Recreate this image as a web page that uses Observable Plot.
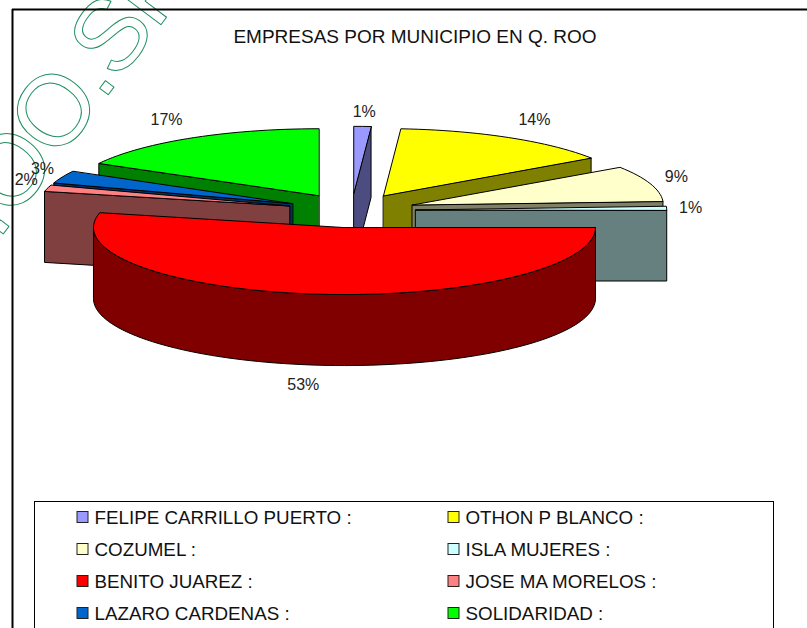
<!DOCTYPE html>
<html><head><meta charset="utf-8">
<script src="https://cdn.jsdelivr.net/npm/d3@7"></script>
<script src="https://cdn.jsdelivr.net/npm/@observablehq/plot@0.6"></script>
<style>html,body{margin:0;padding:0;background:#fff;overflow:hidden}
.wm text{letter-spacing:-3px}</style>
</head><body><div id="chart"></div>
<script>
const title = "EMPRESAS POR MUNICIPIO EN Q. ROO";
const municipios = ["FELIPE CARRILLO PUERTO :","OTHON P BLANCO :","COZUMEL :","ISLA MUJERES :","BENITO JUAREZ :","JOSE MA MORELOS :","LAZARO CARDENAS :","SOLIDARIDAD :"];
const shares = [1.1,14.4,8.6,0.9,53.49,1.51,3.0,17.0];
const topColors = ["#9999ff","#ffff00","#ffffcc","#ccffff","#ff0000","#ff8080","#0066cc","#00ff00"];
const sideColors = ["#4c4c80","#808000","#808066","#668080","#800000","#804040","#003366","#008000"];
const paintOrder = [7,0,1,6,2,5,3,4];
const labelNudge = [[0,5],[0,0],[-23,0],[-28,0],[-8,0],[29,-3],[28,0],[2,-1]];
const watermark = ".OO.SP";

const cx=351, cy=210, rx=251, ry=67, depth=71, explode=0.256;
const rad = d => d*Math.PI/180;
let acc=0;
const slices = shares.map((s,i)=>{
  const a0=acc*3.6; acc+=s; const a1=acc*3.6; const mid=(a0+a1)/2;
  return {i,a0,a1,mid,ax:cx+explode*rx*Math.sin(rad(mid)),ay:cy-explode*ry*Math.cos(rad(mid))};
});
const pt=(s,a,d=0)=>[s.ax+rx*Math.sin(rad(a)),s.ay-ry*Math.cos(rad(a))+d];
const arc=(s,a0,a1,d=0)=>{const n=Math.max(2,Math.ceil(Math.abs(a1-a0)/2));return d3.range(n+1).map(k=>pt(s,a0+(a1-a0)*k/n,d));};
const polys=[];
const add=(id,color,pts)=>pts.forEach(p=>polys.push({id,color,x:p[0],y:p[1]}));
paintOrder.forEach(i=>{
  const s=slices[i], sc=sideColors[i];
  const wall=(a,tag)=>add(i+tag,sc,[[s.ax,s.ay],pt(s,a),pt(s,a,depth),[s.ax,s.ay+depth]]);
  if(Math.sin(rad(s.a1))>0.001) wall(s.a1,"e");
  if(Math.sin(rad(s.a0))<-0.001) wall(s.a0,"s");
  const f0=Math.max(s.a0,90), f1=Math.min(s.a1,270);
  if(f1>f0) add(i+"o",sc,[...arc(s,f0,f1),...arc(s,f1,f0,depth)]);
  add(i+"t",topColors[i],[[s.ax,s.ay],...arc(s,s.a0,s.a1)]);
});
const labels=slices.map(s=>{
  const front=Math.cos(rad(s.mid))<0;
  return {t:Math.round(shares[s.i])+"%",
    x:s.ax+(rx+52)*Math.sin(rad(s.mid))+labelNudge[s.i][0],
    y:s.ay-(ry+20)*Math.cos(rad(s.mid))+(front?depth:0)+labelNudge[s.i][1]};
});
const legend=municipios.map((m,i)=>({m,c:topColors[i],x:(i%2?448:77),y:517+Math.floor(i/2)*32}));

const font="Liberation Sans";
const plot=Plot.plot({
  width:807,height:628,margin:0,
  x:{domain:[0,807],range:[0,807],axis:null},
  y:{domain:[0,628],range:[0,628],axis:null},
  color:{type:"identity"},
  style:{fontFamily:font,background:"#fff"},
  marks:[
    Plot.text([watermark],{x:()=>70,y:()=>91,text:d=>d,rotate:-53,fontSize:100,fontFamily:font,fill:"none",stroke:"#1f8f63",strokeWidth:1,textAnchor:"middle",lineAnchor:"middle",className:"wm"}),
    Plot.ruleX([12],{y1:9,y2:628,stroke:"#000",strokeWidth:2}),
    Plot.ruleY([9],{x1:12,x2:807,stroke:"#000",strokeWidth:2}),
    Plot.text([title],{x:()=>414.5,y:()=>36,text:d=>d,fontSize:19,fontFamily:font,fill:"#111"}),
    Plot.line(polys,{x:"x",y:"y",z:"id",fill:"color",stroke:"#000",strokeWidth:1,curve:"linear-closed"}),
    Plot.text(labels,{x:"x",y:"y",text:"t",fontSize:16,fontFamily:font,fill:"#222"}),
    Plot.ruleY([501],{x1:34,x2:773,stroke:"#000",strokeWidth:1}),
    Plot.ruleX([34,773],{y1:501,y2:628,stroke:"#000",strokeWidth:1}),
    Plot.rect(legend,{x1:d=>d.x,x2:d=>d.x+11,y1:d=>d.y-5.5,y2:d=>d.y+5.5,fill:"c",stroke:"#222",strokeWidth:1}),
    Plot.text(legend,{x:d=>d.x+17,y:"y",text:"m",textAnchor:"start",fontSize:18.8,fontFamily:font,fill:"#111"})
  ]
});
document.getElementById("chart").appendChild(plot);
</script></body></html>
